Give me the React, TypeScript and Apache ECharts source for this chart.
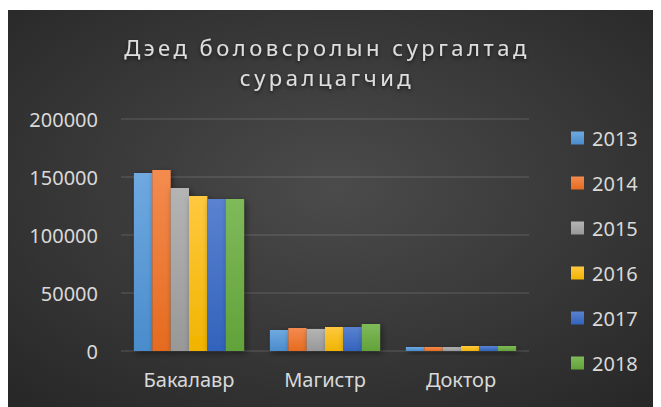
import React, { useEffect, useRef } from "react";
import * as echarts from "echarts";

const categories = ["Бакалавр", "Магистр", "Доктор"];
const years = ["2013", "2014", "2015", "2016", "2017", "2018"];
const v2013 = [153400, 18100, 3400];
const v2014 = [156000, 19800, 3400];
const v2015 = [140500, 19000, 3400];
const v2016 = [133600, 20700, 4300];
const v2017 = [131000, 20700, 4300];
const v2018 = [131000, 23300, 4300];
const seriesValues = [v2013, v2014, v2015, v2016, v2017, v2018];
const yTicks = [0, 50000, 100000, 150000, 200000];
const titleText = "Дэед боловсролын сургалтад\nсуралцагчид";

const colors: [string, string][] = [
  ["#6fa9e0", "#4a8ccc"],
  ["#f48b4f", "#e56b1f"],
  ["#b4b4b4", "#989898"],
  ["#ffc940", "#f0b400"],
  ["#5a82d0", "#3263bc"],
  ["#7fba5a", "#62a23a"],
];

export default function App() {
  const ref = useRef<HTMLDivElement>(null);
  useEffect(() => {
    if (!ref.current) return;
    const chart = echarts.init(ref.current, null, { renderer: "svg" });
    const font = "'Noto Sans', sans-serif";
    chart.setOption({
      animation: false,
      backgroundColor: {
        type: "radial",
        x: 0.5,
        y: 0.45,
        r: 0.75,
        colorStops: [
          { offset: 0, color: "#4b4b4b" },
          { offset: 1, color: "#262626" },
        ],
      },
      title: {
        text: titleText,
        left: 314,
        top: 17,
        textAlign: "center",
        textStyle: {
          color: "#dedede",
          fontFamily: font,
          fontSize: 22,
          fontWeight: "normal",
          lineHeight: 30,
          textShadowColor: "rgba(0,0,0,0.6)",
          textShadowBlur: 4,
          textShadowOffsetY: 2,
        },
      },
      legend: {
        orient: "vertical",
        left: 563,
        top: 118,
        padding: 0,
        itemWidth: 13,
        itemHeight: 13,
        itemGap: 25,
        icon: "rect",
        data: years,
        textStyle: { color: "#d9d9d9", fontFamily: font, fontSize: 20, lineHeight: 20, padding: [0, 0, 0, 3] },
      },
      grid: { left: 113, right: 132, top: 109, bottom: 56, containLabel: false },
      xAxis: {
        type: "category",
        data: categories,
        axisTick: { show: false },
        axisLine: { lineStyle: { color: "#a6a6a6", width: 2, shadowColor: "rgba(0,0,0,0.6)", shadowBlur: 3, shadowOffsetY: 2 } },
        axisLabel: { color: "#d9d9d9", fontFamily: font, fontSize: 20, margin: 18 },
      },
      yAxis: {
        type: "value",
        min: yTicks[0],
        max: yTicks[yTicks.length - 1],
        interval: 50000,
        axisLine: { show: false },
        axisTick: { show: false },
        splitLine: { lineStyle: { color: "rgba(255,255,255,0.12)", width: 1.5 } },
        axisLabel: { color: "#d9d9d9", fontFamily: font, fontSize: 20, margin: 23, formatter: (v: number) => String(v) },
      },
      series: years.map((y, i) => ({
        name: y,
        type: "bar",
        data: seriesValues[i],
        barGap: "0%",
        barCategoryGap: "19%",
        itemStyle: {
          color: {
            type: "linear",
            x: 0,
            y: 0,
            x2: 0,
            y2: 1,
            colorStops: [
              { offset: 0, color: colors[i][0] },
              { offset: 1, color: colors[i][1] },
            ],
          },
          shadowColor: "rgba(0,0,0,0.45)",
          shadowBlur: 6,
          shadowOffsetX: 2,
          shadowOffsetY: 2,
        },
      })),
    });
    const texts = ref.current.querySelectorAll("text");
    texts.forEach((t) => {
      const s = t.textContent || "";
      if (s.startsWith("Дэед") || s === "суралцагчид") {
        t.setAttribute("letter-spacing", "3.5");
      }
    });
    return () => chart.dispose();
  }, []);
  return <div ref={ref} style={{ width: 653, height: 397, marginTop: 2 }} />;
}
